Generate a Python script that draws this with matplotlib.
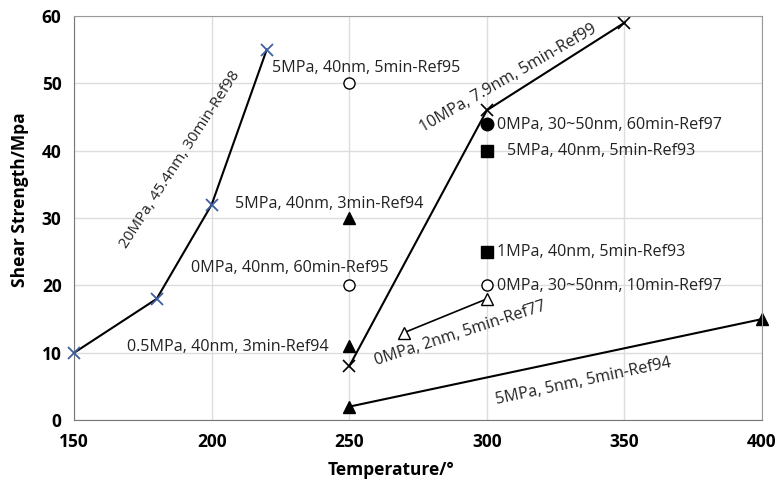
import matplotlib.pyplot as plt

plt.rcParams['font.family'] = ['Open Sans', 'DejaVu Sans']

# line series
ref98_t = [150, 180, 200, 220]
ref98_s = [10, 18, 32, 55]
ref99_t = [250, 300, 350]
ref99_s = [8, 46, 59]
ref94_t = [250, 400]
ref94_s = [2, 15]
ref77_t = [270, 300]
ref77_s = [13, 18]

# single points
open_circ_t = [250, 250, 300]
open_circ_s = [50, 20, 20]
tri_t = [250, 250]
tri_s = [30, 11]
circ_t = [300]
circ_s = [44]
sq_t = [300, 300]
sq_s = [40, 25]

fig, ax = plt.subplots(figsize=(7.8, 4.84), dpi=100)
fig.subplots_adjust(left=0.095, right=0.977, bottom=0.132, top=0.967)

ax.plot(ref98_t, ref98_s, color='black', lw=1.5, zorder=2, clip_on=False)
ax.plot(ref98_t, ref98_s, 'x', color='#3e5f9e', ms=9, mew=1.3, zorder=3, clip_on=False)
ax.plot(ref99_t, ref99_s, color='black', lw=1.5, marker='x', ms=9, mew=1.2, clip_on=False)
ax.plot(ref94_t, ref94_s, color='black', lw=1.5, marker='^', ms=9, clip_on=False)
ax.plot(ref77_t, ref77_s, color='black', lw=1.2, marker='^', ms=8, mfc='white')

ax.plot(open_circ_t, open_circ_s, 'o', color='black', mfc='white', ms=8, ls='none')
ax.plot(tri_t, tri_s, '^', color='black', ms=8, ls='none')
ax.plot(circ_t, circ_s, 'o', color='black', ms=9, ls='none')
ax.plot(sq_t, sq_s, 's', color='black', ms=8, ls='none')

fs = 11.6
tc = '#222222'
ax.text(256, 52.3, '5MPa, 40nm, 5min-Ref95', fontsize=fs, color=tc, ha='center', va='center')
ax.text(242.7, 32.1, '5MPa, 40nm, 3min-Ref94', fontsize=fs, color=tc, ha='center', va='center')
ax.text(228.5, 22.6, '0MPa, 40nm, 60min-Ref95', fontsize=fs, color=tc, ha='center', va='center')
ax.text(206, 10.8, '0.5MPa, 40nm, 3min-Ref94', fontsize=fs, color=tc, ha='center', va='center')
ax.text(303.7, 43.8, '0MPa, 30~50nm, 60min-Ref97', fontsize=fs, color=tc, ha='left', va='center')
ax.text(307.4, 39.9, '5MPa, 40nm, 5min-Ref93', fontsize=fs, color=tc, ha='left', va='center')
ax.text(303.7, 24.9, '1MPa, 40nm, 5min-Ref93', fontsize=fs, color=tc, ha='left', va='center')
ax.text(303.7, 19.9, '0MPa, 30~50nm, 10min-Ref97', fontsize=fs, color=tc, ha='left', va='center')
ax.text(188.5, 38.6, '20MPa, 45.4nm, 30min-Ref98', fontsize=11, color=tc, ha='center', va='center',
        rotation=57, rotation_mode='anchor')
ax.text(307.7, 50.8, '10MPa, 7.9nm, 5min-Ref99', fontsize=fs, color=tc, ha='center', va='center',
        rotation=30, rotation_mode='anchor')
ax.text(290.3, 12.9, '0MPa, 2nm, 5min-Ref77', fontsize=fs, color=tc, ha='center', va='center',
        rotation=18, rotation_mode='anchor')
ax.text(335, 5.8, '5MPa, 5nm, 5min-Ref94', fontsize=fs, color=tc, ha='center', va='center',
        rotation=12, rotation_mode='anchor')

ax.set_xlim(150, 400)
ax.set_ylim(0, 60)
ax.set_xticks([150, 200, 250, 300, 350, 400])
ax.set_yticks([0, 10, 20, 30, 40, 50, 60])
ax.grid(True, color='#dddddd', lw=1)
ax.set_axisbelow(True)
for s in ax.spines.values():
    s.set_color('#999999')
ax.spines['left'].set_color('#777777')
ax.spines['bottom'].set_color('#777777')
ax.tick_params(length=0, pad=9, labelsize=12.5)
for lab in ax.get_xticklabels() + ax.get_yticklabels():
    lab.set_fontweight('bold')
ax.set_xlabel('Temperature/°', fontsize=12.5, fontweight='bold')
ax.set_ylabel('Shear Strength/Mpa', fontsize=12.5, fontweight='bold')
ax.xaxis.set_label_coords(0.46, -0.1)
ax.yaxis.set_label_coords(-0.066, 0.545)

fig.savefig('out.png')
